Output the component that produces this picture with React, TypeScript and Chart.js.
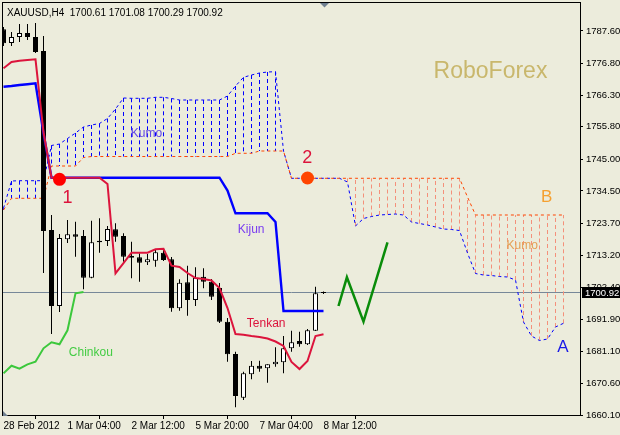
import React, { useEffect, useRef } from "react";
import { Chart, registerables } from "chart.js";

Chart.register(...registerables);

// ---------- data ----------
const headerText = "XAUUSD,H4  1700.61 1701.08 1700.29 1700.92";
const xTickIndex = [0, 8, 16, 24, 32, 40];
const xTickLabels = ["28 Feb 2012", "1 Mar 04:00", "2 Mar 12:00", "5 Mar 20:00", "7 Mar 04:00", "8 Mar 12:00"];
const yTickLabels = ["1660.10", "1670.60", "1681.10", "1691.90", "1702.40", "1713.20", "1723.70", "1734.50", "1745.00", "1755.80", "1766.30", "1776.80", "1787.60"];

const opens = [1788.15, 1783.61, 1785.6, 1786.93, 1785.6, 1780.95, 1721.52, 1696.29, 1718.43, 1720.09, 1719.53, 1705.68, 1717.97, 1717.87, 1721.75, 1719.53, 1712.89, 1712.46, 1710.8, 1711.33, 1713.98, 1711.79, 1695.53, 1704.16, 1698.28, 1706.02, 1704.36, 1702.26, 1691.08, 1680.35, 1665.84, 1673.61, 1676.47, 1675.6, 1676.93, 1677.6, 1682.24, 1684.67, 1683.57, 1688.09, 1700.61];
const highs = [1788.92, 1787.26, 1789.91, 1789.91, 1790.25, 1785.93, 1726.5, 1720.19, 1724.84, 1724.28, 1721.52, 1724.61, 1725.41, 1722.85, 1723.75, 1720.43, 1717.64, 1713.79, 1713.55, 1715.21, 1715.11, 1712.56, 1705.15, 1709.67, 1709.14, 1708.81, 1705.25, 1703.92, 1692.3, 1681.12, 1674.48, 1678.03, 1678.13, 1676.93, 1682.58, 1686.33, 1688.09, 1687.76, 1688.65, 1702.7, 1701.08];
const lows = [1782.61, 1782.61, 1783.94, 1784.6, 1780.29, 1707.24, 1686.99, 1694.3, 1717.2, 1712.66, 1701.83, 1705.48, 1713.98, 1716.21, 1717.64, 1711.0, 1705.48, 1704.36, 1709.9, 1709.34, 1711.23, 1694.4, 1694.73, 1693.07, 1696.29, 1702.17, 1698.28, 1690.64, 1677.8, 1662.66, 1665.08, 1671.95, 1674.48, 1670.82, 1676.14, 1673.94, 1681.12, 1682.78, 1683.34, 1688.0, 1700.29];
const closes = [1783.51, 1785.6, 1786.93, 1785.6, 1780.62, 1721.19, 1696.29, 1718.87, 1720.09, 1719.3, 1705.68, 1717.44, 1717.44, 1721.85, 1719.3, 1712.66, 1712.32, 1710.66, 1711.79, 1714.12, 1711.56, 1695.53, 1704.02, 1698.28, 1705.68, 1704.36, 1699.38, 1691.08, 1680.25, 1666.41, 1673.94, 1676.47, 1675.47, 1676.93, 1677.8, 1682.24, 1684.24, 1683.57, 1688.22, 1700.51, 1700.92];

const tenkan = [1775.21, 1777.3, 1777.73, 1777.96, 1778.19, 1754.06, 1738.88, 1738.88, 1738.88, 1738.88, 1738.88, 1738.88, 1738.88, 1736.79, 1707.15, 1710.56, 1713.98, 1713.98, 1713.98, 1715.11, 1715.31, 1709.67, 1709.24, 1707.24, 1705.58, 1705.25, 1704.75, 1702.26, 1695.62, 1686.99, 1686.76, 1686.33, 1686.0, 1685.5, 1684.5, 1683.01, 1677.7, 1675.37, 1678.03, 1686.33, 1686.89];
const kijun = [1769.1, 1769.33, 1769.66, 1769.93, 1770.23, 1753.63, 1738.88, 1738.88, 1738.88, 1738.88, 1738.88, 1738.88, 1738.88, 1738.88, 1738.88, 1738.88, 1738.88, 1738.88, 1738.88, 1738.88, 1738.88, 1738.88, 1738.88, 1738.88, 1738.88, 1738.88, 1738.88, 1738.88, 1734.64, 1727.07, 1727.07, 1727.07, 1727.07, 1727.07, 1724.18, 1694.63, 1694.63, 1694.63, 1694.63, 1694.63, 1694.63];
const chinkou = [1673.94, 1676.47, 1675.47, 1676.93, 1677.8, 1682.24, 1684.24, 1683.57, 1688.22, 1700.51, 1700.92];
const senkouA = [1728.73, 1737.79, 1737.89, 1737.89, 1737.89, 1737.89, 1749.58, 1750.07, 1751.9, 1753.73, 1755.72, 1756.38, 1756.88, 1758.54, 1761.69, 1765.35, 1765.25, 1765.25, 1765.25, 1765.58, 1765.58, 1765.18, 1764.68, 1764.68, 1764.68, 1764.68, 1764.68, 1764.68, 1766.01, 1769.33, 1772.22, 1772.98, 1773.65, 1773.98, 1774.08, 1747.75, 1738.69, 1738.69, 1738.69, 1738.69, 1738.69, 1738.69, 1738.69, 1737.46, 1722.85, 1725.34, 1726.0, 1726.5, 1726.67, 1726.83, 1726.5, 1724.18, 1723.68, 1723.18, 1722.52, 1721.85, 1721.69, 1721.35, 1713.88, 1707.08, 1706.58, 1706.41, 1706.08, 1705.92, 1704.92, 1690.98, 1686.33, 1684.83, 1685.33, 1689.32, 1690.55];
const senkouB = [1728.16, 1732.05, 1732.05, 1732.05, 1732.05, 1732.05, 1742.77, 1742.77, 1742.77, 1742.77, 1745.59, 1745.92, 1745.92, 1745.92, 1745.92, 1745.92, 1745.92, 1745.92, 1745.92, 1745.92, 1745.92, 1745.92, 1745.92, 1745.92, 1745.92, 1745.92, 1745.92, 1745.92, 1745.92, 1746.99, 1746.99, 1746.99, 1747.75, 1747.75, 1747.75, 1747.75, 1738.69, 1738.69, 1738.69, 1738.69, 1738.69, 1738.69, 1738.69, 1738.69, 1738.69, 1738.69, 1738.69, 1738.69, 1738.69, 1738.69, 1738.69, 1738.69, 1738.69, 1738.69, 1738.69, 1738.69, 1738.69, 1738.69, 1732.48, 1726.5, 1726.5, 1726.5, 1726.5, 1726.5, 1726.5, 1726.5, 1726.5, 1726.5, 1726.5, 1726.5, 1726.5];

const forecastX = [41.875, 42.925, 45, 48];
const forecastY = [1696.29, 1705.82, 1691.08, 1717.44];
const signalX = [7, 38];
const signalY = [1738.35, 1738.79];
const bid = 1700.92;

// ---------- style ----------
const BG = "#ECECDC";
const FONT = "'Liberation Sans', Arial, sans-serif";

const annotations = [
  { t: "RoboForex", x: 490.5, y: 77.5, size: 23, color: "#C9B76C" },
  { t: "Kumo", x: 146.5, y: 137, size: 12, color: "#6347E6" },
  { t: "1", x: 67.5, y: 203, size: 18, color: "#DC143C" },
  { t: "2", x: 307.2, y: 162.5, size: 18, color: "#DC143C" },
  { t: "Kijun", x: 251.2, y: 232.6, size: 12, color: "#7A3DF0" },
  { t: "Tenkan", x: 266.2, y: 326.7, size: 12, color: "#DC143C" },
  { t: "Chinkou", x: 90.8, y: 356, size: 12, color: "#44CC44" },
  { t: "Kumo", x: 522.2, y: 249.3, size: 12, color: "#E5A055" },
  { t: "B", x: 546.7, y: 201.7, size: 17, color: "#F5A030" },
  { t: "A", x: 563, y: 351.5, size: 17, color: "#1A1AE6" },
];

function hatch(cond: (a: number, b: number) => boolean) {
  const out: any[] = [];
  senkouA.forEach((a, i) => {
    const b = senkouB[i];
    if (cond(a, b)) out.push({ x: i, y: a }, { x: i, y: b }, { x: i, y: null });
  });
  return out;
}

function noPad(s: any) {
  s.paddingTop = 0;
  s.paddingBottom = 0;
  s.paddingLeft = 0;
  s.paddingRight = 0;
}

const overlay = {
  id: "overlay",
  beforeDraw(chart: any) {
    const ctx = chart.ctx;
    ctx.save();
    ctx.fillStyle = BG;
    ctx.fillRect(0, 0, chart.width, chart.height);
    ctx.restore();
  },
  beforeDatasetsDraw(chart: any) {
    const ctx = chart.ctx;
    const a = chart.chartArea;
    const y = Math.floor(chart.scales.y.getPixelForValue(bid)) + 0.5;
    ctx.save();
    ctx.strokeStyle = "#778899";
    ctx.lineWidth = 1;
    ctx.beginPath();
    ctx.moveTo(a.left, y);
    ctx.lineTo(a.right, y);
    ctx.stroke();
    ctx.restore();
  },
  afterDraw(chart: any) {
    const ctx = chart.ctx;
    const a = chart.chartArea;
    ctx.save();
    // frame
    ctx.strokeStyle = "#000";
    ctx.lineWidth = 1;
    ctx.strokeRect(Math.floor(a.left) - 0.5, Math.floor(a.top) - 0.5, Math.round(a.right - a.left) + 1, Math.round(a.bottom - a.top));
    // header
    ctx.fillStyle = "#000";
    ctx.font = `10px ${FONT}`;
    ctx.textAlign = "left";
    ctx.textBaseline = "alphabetic";
    ctx.fillText(headerText, 7, 15.5);
    // annotations
    ctx.textAlign = "center";
    annotations.forEach((n) => {
      ctx.font = `${n.size}px ${FONT}`;
      ctx.fillStyle = n.color;
      ctx.fillText(n.t, n.x, n.y);
    });
    // price box
    const y = Math.floor(chart.scales.y.getPixelForValue(bid)) + 0.5;
    ctx.fillStyle = "#000";
    ctx.fillRect(582, Math.round(y - 5.5), 38, 11);
    ctx.fillStyle = "#fff";
    ctx.font = `9.5px ${FONT}`;
    ctx.textAlign = "left";
    ctx.textBaseline = "middle";
    ctx.fillText(bid.toFixed(2), 585, y + 0.5);
    // small markers
    ctx.fillStyle = "#708090";
    ctx.beginPath();
    ctx.moveTo(320, 3);
    ctx.lineTo(329, 3);
    ctx.lineTo(324.5, 7.5);
    ctx.closePath();
    ctx.fill();
    ctx.beginPath();
    ctx.moveTo(3, 411);
    ctx.lineTo(3, 416);
    ctx.lineTo(8, 416);
    ctx.closePath();
    ctx.fill();
    ctx.restore();
  },
};

export default function App() {
  const ref = useRef<HTMLCanvasElement>(null);
  useEffect(() => {
    const bodies = opens.map((o, i) => ({ x: i, y: [o, closes[i]] }));
    const wicks = lows.map((l, i) => ({ x: i, y: [l, highs[i]] }));
    const chart = new Chart(ref.current as HTMLCanvasElement, {
      type: "line",
      data: {
        datasets: [
          {
            type: "line",
            data: signalX.map((x, i) => ({ x, y: signalY[i] })),
            showLine: false,
            pointRadius: 6.5,
            pointBackgroundColor: ["#FF0000", "#FF4500"],
            pointBorderWidth: 0,
            order: 1,
          },
          {
            type: "line",
            data: forecastX.map((x, i) => ({ x, y: forecastY[i] })),
            borderColor: "#0A8C0A",
            borderWidth: 2.5,
            pointRadius: 0,
            tension: 0,
            order: 2,
          },
          {
            type: "line",
            data: tenkan.map((y, i) => ({ x: i, y })),
            borderColor: "#DC143C",
            borderWidth: 2,
            pointRadius: 0,
            tension: 0,
            order: 3,
          },
          {
            type: "line",
            data: kijun.map((y, i) => ({ x: i, y })),
            borderColor: "#0000FF",
            borderWidth: 2.4,
            pointRadius: 0,
            tension: 0,
            order: 4,
          },
          {
            type: "line",
            data: chinkou.map((y, i) => ({ x: i, y })),
            borderColor: "#3CC83C",
            borderWidth: 2,
            pointRadius: 0,
            tension: 0,
            order: 5,
          },
          {
            type: "bar",
            data: bodies as any,
            backgroundColor: opens.map((o, i) => (closes[i] < o ? "#000000" : "#FFFFFF")),
            borderColor: "#000000",
            borderWidth: 1,
            borderSkipped: false,
            barThickness: 5,
            minBarLength: 1,
            grouped: false,
            inflateAmount: 0,
            order: 6,
          } as any,
          {
            type: "bar",
            data: wicks as any,
            backgroundColor: "#000000",
            borderWidth: 0,
            barThickness: 1,
            grouped: false,
            inflateAmount: 0,
            order: 7,
          } as any,
          {
            type: "line",
            data: senkouB.map((y, i) => ({ x: i, y })),
            borderColor: "#FF4500",
            borderWidth: 1,
            borderDash: [3, 3],
            pointRadius: 0,
            tension: 0,
            order: 8,
          },
          {
            type: "line",
            data: senkouA.map((y, i) => ({ x: i, y })),
            borderColor: "#0000FF",
            borderWidth: 1,
            borderDash: [3, 3],
            pointRadius: 0,
            tension: 0,
            order: 9,
          },
          {
            type: "line",
            data: hatch((a, b) => a >= b),
            borderColor: "#0000FF",
            borderWidth: 1,
            borderDash: [4, 3],
            pointRadius: 0,
            spanGaps: false,
            order: 10,
          },
          {
            type: "line",
            data: hatch((a, b) => a < b),
            borderColor: "#F4907A",
            borderWidth: 1,
            borderDash: [4, 3],
            pointRadius: 0,
            spanGaps: false,
            order: 11,
          },
        ] as any,
      },
      options: {
        responsive: false,
        animation: false,
        devicePixelRatio: 1,
        layout: { autoPadding: false, padding: { left: 3, top: 3, right: 0, bottom: 0 } },
        plugins: { legend: { display: false }, tooltip: { enabled: false } },
        scales: {
          x: {
            type: "linear",
            min: -0.0625,
            max: 72.0625,
            offset: false,
            afterFit(s: any) {
              s.height = 19;
              noPad(s);
            },
            afterBuildTicks(s: any) {
              s.ticks = xTickIndex.map((v) => ({ value: v }));
            },
            grid: { display: true, drawOnChartArea: false, drawTicks: true, tickLength: 3, color: "#000", lineWidth: 1 },
            border: { display: false },
            ticks: {
              autoSkip: false,
              maxRotation: 0,
              minRotation: 0,
              align: "start",
              padding: 1,
              color: "#000",
              font: { family: FONT, size: 10 },
              callback: (_v: any, i: number) => xTickLabels[i],
            },
          },
          y: {
            type: "linear",
            position: "right",
            min: 1659.77,
            max: 1796.89,
            afterFit(s: any) {
              s.width = 40;
              noPad(s);
            },
            afterBuildTicks(s: any) {
              s.ticks = yTickLabels.map((t) => ({ value: parseFloat(t) }));
            },
            grid: { display: true, drawOnChartArea: false, drawTicks: true, tickLength: 3, color: "#000", lineWidth: 1 },
            border: { display: false },
            ticks: {
              padding: 3,
              color: "#000",
              font: { family: FONT, size: 9.5 },
              callback: (_v: any, i: number) => yTickLabels[i],
            },
          },
        },
      } as any,
      plugins: [overlay],
    });
    return () => chart.destroy();
  }, []);
  return (
    <div style={{ position: "fixed", left: 0, top: 0, width: 620, height: 435, background: BG }}>
      <canvas ref={ref} width={620} height={435} style={{ display: "block" }} />
    </div>
  );
}
